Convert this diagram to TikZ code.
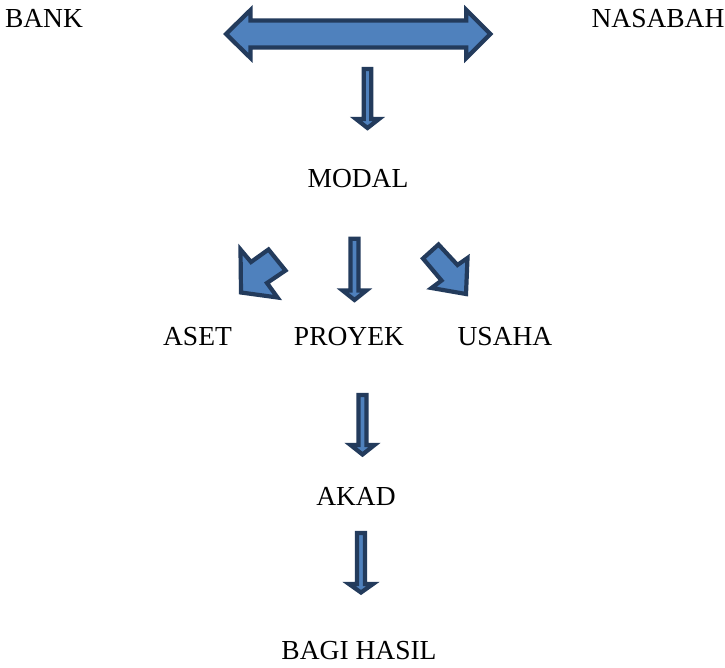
\documentclass[tikz,border=0pt]{standalone}
\usepackage{fontspec}
\setmainfont{Liberation Serif}
\definecolor{arrfill}{HTML}{4F81BD}
\definecolor{arrline}{HTML}{233B5C}
\tikzset{
  blockarr/.style={fill=arrfill, draw=arrline, line width=4.2pt, line join=miter},
  lbl/.style={anchor=base, inner sep=0pt, font=\fontsize{27.5}{31}\selectfont}
}
% #1 centre x, #2 shaft top, #3 head base, #4 tip, #5 shaft half width, #6 head half width
\newcommand\dnarrow[6]{%
  \draw[blockarr] ({#1-#5},#2) -- ({#1+#5},#2) -- ({#1+#5},#3) -- ({#1+#6},#3)
    -- (#1,#4) -- ({#1-#6},#3) -- ({#1-#5},#3) -- cycle;}
\begin{document}
\begin{tikzpicture}[x=1pt,y=-1pt]
\useasboundingbox (0,0) rectangle (725,668);
% labels
\node[lbl] (bank) at (44,28) {BANK};
\node[lbl] (nasabah) at (658,28) {NASABAH};
\node[lbl] (modal) at (358,187.3) {MODAL};
\node[lbl] (aset) at (197.5,345.7) {ASET};
\node[lbl] (proyek) at (349,345.7) {PROYEK};
\node[lbl] (usaha) at (505,345.7) {USAHA};
\node[lbl] (akad) at (356,505) {AKAD};
\node[lbl] (bagi) at (359,659.5) {BAGI HASIL};
% double arrow between BANK and NASABAH
\draw[blockarr] (226,34) -- (250.5,10) -- (250.5,20.5) -- (466.3,20.5) -- (466.3,10)
  -- (490.4,34) -- (466.3,58) -- (466.3,47.5) -- (250.5,47.5) -- (250.5,58) -- cycle;
% down arrows
\dnarrow{367.5}{69}{119}{128}{3.7}{11.5}
\dnarrow{354.5}{238.8}{290.4}{300}{4}{12}
\dnarrow{362.5}{395}{445}{454.5}{4}{12}
\dnarrow{361}{533}{584}{592.5}{4}{12}
% diagonal arrow to ASET
\draw[blockarr] (241,292.5) -- (240.5,249.5) -- (251,262) -- (268.5,249.5)
  -- (285.5,270.5) -- (267,283) -- (277.5,297.5) -- cycle;
% diagonal arrow to USAHA
\draw[blockarr] (466,294) -- (431.5,288) -- (441.5,280.5) -- (423,258.5)
  -- (438.5,244.5) -- (457.5,265) -- (467.5,258) -- cycle;
\end{tikzpicture}
\end{document}
